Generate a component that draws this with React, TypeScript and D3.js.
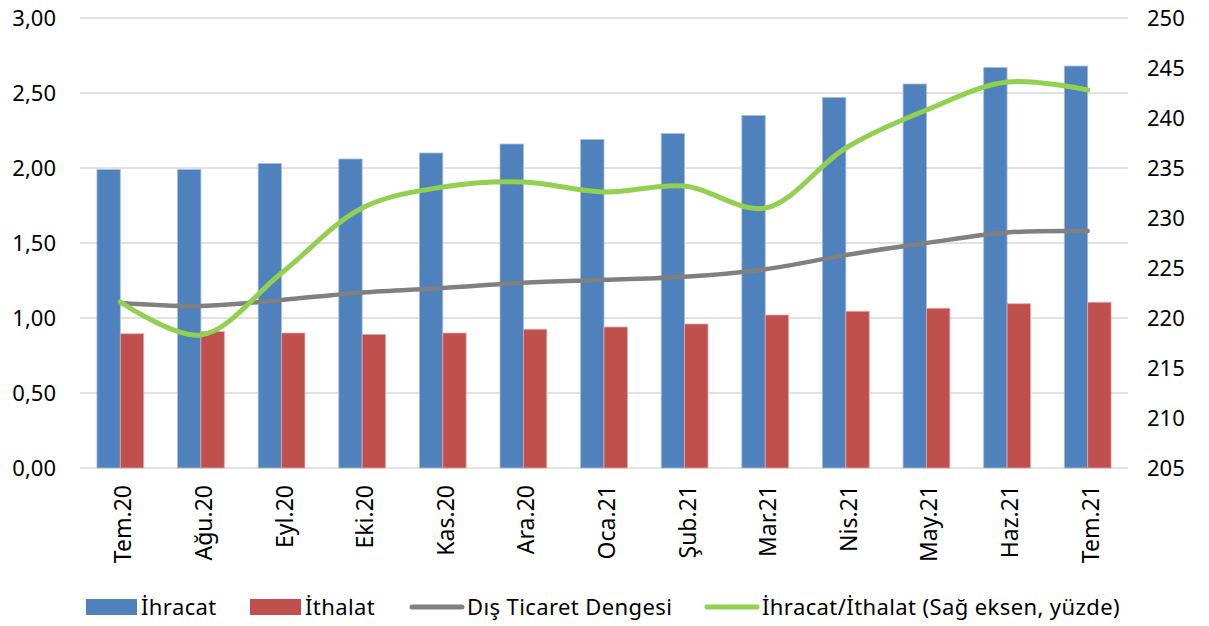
import React from 'react';
import * as d3 from 'd3';

const categories = ['Tem.20', 'Ağu.20', 'Eyl.20', 'Eki.20', 'Kas.20', 'Ara.20', 'Oca.21', 'Şub.21', 'Mar.21', 'Nis.21', 'May.21', 'Haz.21', 'Tem.21'];
const ihracat = [1.99, 1.99, 2.03, 2.06, 2.10, 2.16, 2.19, 2.23, 2.35, 2.47, 2.56, 2.67, 2.68];
const ithalat = [0.895, 0.91, 0.90, 0.89, 0.90, 0.925, 0.94, 0.96, 1.02, 1.045, 1.065, 1.095, 1.105];
const denge = [1.10, 1.08, 1.12, 1.17, 1.20, 1.235, 1.255, 1.275, 1.325, 1.42, 1.50, 1.57, 1.58];
const oran = [221.6, 218.3, 224.5, 231.0, 233.1, 233.6, 232.6, 233.2, 231.0, 237.0, 240.8, 243.6, 242.8];
const leftTicks = [0, 0.5, 1, 1.5, 2, 2.5, 3];
const rightTicks = [205, 210, 215, 220, 225, 230, 235, 240, 245, 250];

const W = 1209;
const H = 626;
const m = { left: 80, right: 81, top: 18, bottom: 158 };

const C = {
  blue: '#4f81bd',
  red: '#c0504d',
  grey: '#808080',
  green: '#92d050',
  grid: '#d9d9d9',
};

const font = '"Noto Sans", sans-serif';
const fmt = (v: number) => v.toFixed(2).replace('.', ',');

export default function App() {
  const x = d3.scaleBand<string>()
    .domain(categories)
    .range([m.left, W - m.right])
    .paddingInner(0.42)
    .paddingOuter(0.21);
  const sub = d3.scaleBand<string>().domain(['ihr', 'ith']).range([0, x.bandwidth()]);
  const yL = d3.scaleLinear().domain([0, 3]).range([H - m.bottom, m.top]);
  const yR = d3.scaleLinear().domain([205, 250]).range([H - m.bottom, m.top]);
  const cx = (c: string) => (x(c) ?? 0) + x.bandwidth() / 2;

  const curve = d3.curveCatmullRom.alpha(0.5);
  const dengeLine = d3.line<number>().x((_, i) => cx(categories[i])).y((d) => yL(d)).curve(curve);
  const oranLine = d3.line<number>().x((_, i) => cx(categories[i])).y((d) => yR(d)).curve(curve);

  const legendY = 607;
  const legend = [
    { x: 86, label: 'İhracat', kind: 'rect', color: C.blue },
    { x: 250, label: 'İthalat', kind: 'rect', color: C.red },
    { x: 412, label: 'Dış Ticaret Dengesi', kind: 'line', color: C.grey },
    { x: 707, label: 'İhracat/İthalat (Sağ eksen, yüzde)', kind: 'line', color: C.green },
  ];

  return (
    <svg width={W} height={H} style={{ position: 'absolute', left: 0, top: 0, background: '#fff' }}>
      {leftTicks.map((t) => (
        <g key={`g-${t}`}>
          <line x1={m.left} x2={W - m.right} y1={yL(t)} y2={yL(t)} stroke={C.grid} strokeWidth={1.5} />
          <text x={56} y={yL(t)} dy="0.36em" textAnchor="end" fontFamily={font} fontSize={22} fill="#000">
            {fmt(t)}
          </text>
        </g>
      ))}
      {rightTicks.map((t) => (
        <text key={`r-${t}`} x={1147} y={yR(t)} dy="0.36em" fontFamily={font} fontSize={22} fill="#000">
          {t}
        </text>
      ))}

      {categories.map((c, i) => (
        <g key={c}>
          <rect
            x={(x(c) ?? 0) + (sub('ihr') ?? 0)}
            y={yL(ihracat[i])}
            width={sub.bandwidth()}
            height={yL(0) - yL(ihracat[i])}
            fill={C.blue}
            stroke="#a7bfdd"
            strokeWidth={0.8}
          />
          <rect
            x={(x(c) ?? 0) + (sub('ith') ?? 0)}
            y={yL(ithalat[i])}
            width={sub.bandwidth()}
            height={yL(0) - yL(ithalat[i])}
            fill={C.red}
            stroke="#e0a8a6"
            strokeWidth={0.8}
          />
          <text
            transform={`translate(${cx(c) + 11},${yL(0) + 17}) rotate(-90)`}
            textAnchor="end"
            fontFamily={font}
            fontSize={23}
            fill="#000"
          >
            {c}
          </text>
        </g>
      ))}

      <path d={dengeLine(denge) ?? ''} fill="none" stroke={C.grey} strokeWidth={4.5} strokeLinecap="round" />
      <path d={oranLine(oran) ?? ''} fill="none" stroke={C.green} strokeWidth={5} strokeLinecap="round" />

      {legend.map((l) => (
        <g key={l.label}>
          {l.kind === 'rect' ? (
            <rect x={l.x} y={legendY - 8} width={51} height={16} fill={l.color} />
          ) : (
            <line x1={l.x} x2={l.x + 50} y1={legendY} y2={legendY} stroke={l.color} strokeWidth={5} strokeLinecap="round" />
          )}
          <text x={l.x + 55} y={legendY} dy="0.36em" fontFamily={font} fontSize={22} letterSpacing={0.4} fill="#000">
            {l.label}
          </text>
        </g>
      ))}
    </svg>
  );
}
